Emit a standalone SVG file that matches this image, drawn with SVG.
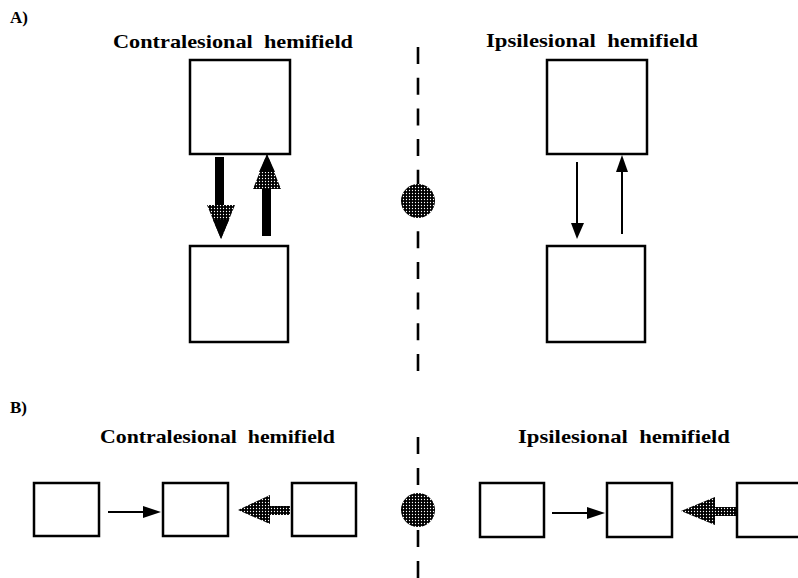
<svg xmlns="http://www.w3.org/2000/svg" width="798" height="578" viewBox="0 0 798 578">
  <style>
    .lbl { font-family: "Liberation Serif", "DejaVu Serif", serif; font-weight: bold; font-size: 19px; fill: #000; white-space: pre; }
    .tag { font-family: "Liberation Serif", "DejaVu Serif", serif; font-weight: bold; font-size: 17px; fill: #000; white-space: pre; }
    .box { fill: #fff; stroke: #000; stroke-width: 2.5; }
    .thin { stroke: #000; stroke-width: 2; fill: none; }
    .thick { fill: #000; }
    .head { fill: #000; }
    .stip { fill: url(#stipple); }
    .divider { stroke: #000; stroke-width: 2.6; fill: none; }
  </style>
  <defs>
    <pattern id="stipple" width="3" height="3" patternUnits="userSpaceOnUse">
      <rect width="3" height="3" fill="#000"/>
      <circle cx="1.5" cy="1.5" r="0.65" fill="#fff"/>
    </pattern>
  </defs>
  <rect width="798" height="578" fill="#fff"/>

  <!-- Panel labels -->
  <text class="tag" x="10" y="23">A)</text>
  <text class="tag" x="10" y="413">B)</text>

  <!-- Headings -->
  <text class="lbl" x="113" y="48" textLength="240" lengthAdjust="spacingAndGlyphs">Contralesional  hemifield</text>
  <text class="lbl" x="486" y="47" textLength="212" lengthAdjust="spacingAndGlyphs">Ipsilesional  hemifield</text>
  <text class="lbl" x="100" y="443" textLength="235" lengthAdjust="spacingAndGlyphs">Contralesional  hemifield</text>
  <text class="lbl" x="518" y="443" textLength="212" lengthAdjust="spacingAndGlyphs">Ipsilesional  hemifield</text>

  <!-- Midline and fixation points -->
  <g id="midline">
    <line class="divider" x1="418" y1="47" x2="418" y2="373" stroke-dasharray="17 13.7"/>
    <line class="divider" x1="418" y1="437" x2="418" y2="578" stroke-dasharray="17 14"/>
  </g>
  <g id="fixA"><circle cx="418" cy="201" r="17" class="stip"/></g>
  <g id="fixB"><circle cx="418" cy="510" r="17" class="stip"/></g>

  <!-- Nodes: panel A -->
  <g id="A-contra-top"><rect class="box" x="190" y="60" width="100" height="94"/></g>
  <g id="A-contra-bottom"><rect class="box" x="190" y="246" width="98" height="96"/></g>
  <g id="A-ipsi-top"><rect class="box" x="547" y="60" width="100" height="94"/></g>
  <g id="A-ipsi-bottom"><rect class="box" x="547" y="246" width="98" height="96"/></g>

  <!-- Nodes: panel B -->
  <g id="B-contra-1"><rect class="box" x="34" y="483" width="65" height="53"/></g>
  <g id="B-contra-2"><rect class="box" x="163" y="483" width="65" height="53"/></g>
  <g id="B-contra-3"><rect class="box" x="292" y="483" width="64" height="53"/></g>
  <g id="B-ipsi-1"><rect class="box" x="480" y="483" width="64" height="54"/></g>
  <g id="B-ipsi-2"><rect class="box" x="607" y="483" width="65" height="54"/></g>
  <g id="B-ipsi-3"><rect class="box" x="737" y="483" width="70" height="54"/></g>

  <!-- Connectors -->
  <g id="connectors">
    <!-- A contra: thick down -->
    <rect class="thick" x="215" y="157" width="9" height="50"/>
    <polygon class="stip" points="207,205 235,205 221,239"/>
    <polygon class="head" points="213,220 229,220 221,239"/>
    <!-- A contra: thick up -->
    <rect class="thick" x="262" y="186" width="9" height="50"/>
    <polygon class="stip" points="253,189 281,189 267,154"/>
    <polygon class="head" points="259,172 275,172 267,154"/>
    <!-- A ipsi: thin down -->
    <line class="thin" x1="577" y1="162" x2="577" y2="225"/>
    <polygon class="head" points="571,223 584,223 577,239"/>
    <!-- A ipsi: thin up -->
    <line class="thin" x1="622" y1="234" x2="622" y2="170"/>
    <polygon class="head" points="616,172 628,172 622,155"/>
    <!-- B contra: thin right -->
    <line class="thin" x1="108" y1="512" x2="146" y2="512"/>
    <polygon class="head" points="143,506 143,518 161,512"/>
    <!-- B contra: thick left -->
    <rect class="stip" x="268" y="506" width="22" height="9"/>
    <polygon class="stip" points="270,495 270,524 238,510"/>
    <!-- B ipsi: thin right -->
    <line class="thin" x1="552" y1="513" x2="589" y2="513"/>
    <polygon class="head" points="587,507 587,519 605,513"/>
    <!-- B ipsi: thick left -->
    <rect class="stip" x="713" y="507" width="23" height="9"/>
    <polygon class="stip" points="715,497 715,525 681,511"/>
  </g>
</svg>
